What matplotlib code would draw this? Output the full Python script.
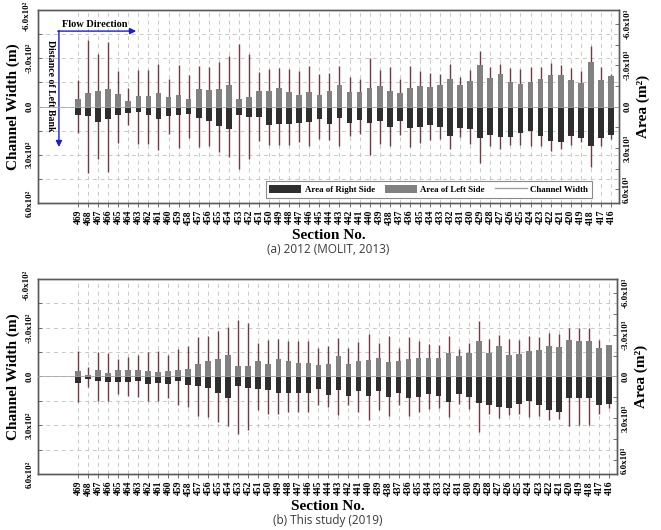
import numpy as np
import matplotlib
matplotlib.use("Agg")
import matplotlib.pyplot as plt
from matplotlib.patches import Patch
from matplotlib.lines import Line2D

sections = [str(s) for s in range(469, 415, -1)]

width_left_2012 = [165, 411, 325, 401, 222, 115, 228, 226, 267, 171,
                   259, 197, 251, 247, 279, 312, 386, 329, 212, 236,
                   242, 234, 218, 251, 205, 210, 249, 181, 173, 300,
                   226, 247, 173, 249, 222, 210, 201, 263, 185, 226,
                   345, 247, 267, 242, 234, 247, 247, 269, 259, 238,
                   222, 374, 247, 201]
width_right_2012 = [164, 415, 329, 405, 226, 117, 230, 230, 271, 173,
                    261, 197, 251, 247, 282, 316, 390, 329, 214, 238,
                    242, 238, 220, 247, 201, 210, 247, 185, 173, 302,
                    230, 247, 175, 251, 226, 210, 201, 263, 189, 230,
                    353, 247, 267, 242, 238, 247, 247, 275, 263, 242,
                    222, 374, 247, 205]
area_left_2012 = [530, 1010, 1130, 1270, 940, 380, 770, 740, 960, 670,
                  820, 580, 1250, 1220, 1300, 1580, 530, 720, 1130, 1150,
                  1370, 1060, 860, 1060, 840, 1150, 1580, 1030, 1060, 1340,
                  1490, 1130, 1010, 1340, 1510, 1440, 1580, 1990, 1580, 1820,
                  3000, 2090, 2350, 1800, 1660, 1780, 2020, 2280, 2260, 1940,
                  1730, 3240, 1920, 2230]
area_right_2012 = [580, 700, 1100, 890, 580, 460, 410, 620, 890, 670,
                   580, 550, 820, 1080, 1440, 1610, 650, 790, 790, 1320,
                   1250, 1250, 1200, 1100, 910, 1300, 860, 1180, 980, 1200,
                   1080, 1490, 1080, 1560, 1460, 1370, 1460, 2140, 1540, 1660,
                   2260, 2090, 2230, 2210, 1900, 1800, 2110, 2500, 2590, 2140,
                   2280, 2860, 2280, 2060]

width_left_2019 = [156, 60, 152, 146, 109, 121, 129, 150, 154, 132,
                   171, 185, 242, 249, 277, 306, 347, 327, 205, 226,
                   228, 216, 216, 216, 173, 189, 238, 173, 212, 263,
                   208, 247, 177, 242, 218, 201, 191, 247, 171, 203,
                   339, 228, 255, 232, 224, 249, 242, 267, 259, 300,
                   296, 296, 224, 195]
width_right_2019 = [158, 64, 154, 152, 109, 121, 127, 152, 154, 134,
                    173, 187, 245, 251, 282, 306, 351, 327, 208, 228,
                    232, 220, 216, 216, 175, 189, 240, 173, 216, 265,
                    208, 245, 175, 245, 220, 203, 191, 249, 171, 203,
                    339, 232, 257, 236, 228, 249, 245, 269, 261, 302,
                    298, 298, 228, 195]
area_left_2019 = [380, 140, 430, 260, 460, 460, 460, 360, 340, 360,
                  460, 550, 910, 1130, 1250, 1510, 770, 740, 1080, 910,
                  1220, 1100, 960, 960, 840, 910, 1460, 860, 1080, 1150,
                  1340, 1060, 1080, 1220, 1340, 1300, 1340, 1660, 1440, 1700,
                  2540, 1660, 2160, 1540, 1610, 1800, 1920, 2210, 2090, 2590,
                  2570, 2570, 2040, 2280]
area_right_2019 = [460, 170, 310, 430, 430, 430, 360, 530, 480, 550,
                   310, 600, 700, 840, 1180, 1540, 650, 840, 910, 980,
                   1220, 1200, 1220, 1220, 910, 1300, 980, 1370, 1030, 1370,
                   1030, 1460, 1220, 1580, 1440, 1270, 1370, 1820, 1250, 1490,
                   1940, 2040, 2160, 2260, 1970, 1750, 2020, 2420, 2520, 1560,
                   1580, 1580, 2040, 1990]

width_ticks = [-600, -300, 0, 300, 600]
width_tick_labels = ["-6.0x10²", "-3.0x10²", "0.0", "3.0x10²", "6.0x10²"]
area_ticks = [-6000, -3000, 0, 3000, 6000]
area_tick_labels = ["-6.0x10³", "-3.0x10³", "0.0", "3.0x10³", "6.0x10³"]

SERIF = "Liberation Serif"
GRAY = "#818181"
DARK = "#2e2e2e"
LINEC = "#743a42"
SPINE = "#5a5a5a"
BLUE = "#1c1cd8"

fig = plt.figure(figsize=(6.61, 5.30), dpi=100)


def panel(rect, wl, wr, al, ar, caption, legend=False, arrows=False):
    ax = fig.add_axes(rect)
    x = np.arange(len(sections))
    ax.vlines(x, -np.array(wl), np.array(wr), color=LINEC, lw=1.0, zorder=2)
    ax.set_xlim(-3.98, len(sections) - 1 + 0.8)
    ax.set_ylim(600, -600)
    ax.set_xticks(x)
    ax.set_xticklabels(sections, rotation=90, fontfamily=SERIF,
                       fontweight="bold", fontsize=7)
    ax.set_yticks(width_ticks)
    ax.set_yticks([-450, -150, 150, 450], minor=True)
    # the topmost label would run off the axes top, so it is placed by hand below
    ax.set_yticklabels([""] + width_tick_labels[1:], rotation=90, va="center",
                       fontfamily=SERIF, fontweight="bold", fontsize=6.5)
    ax.annotate(width_tick_labels[0], xy=(0, 1), xycoords="axes fraction",
                xytext=(-5.2, 6.5), textcoords="offset points",
                ha="right", va="top", rotation=90, fontfamily=SERIF,
                fontweight="bold", fontsize=6.5)
    ax.grid(True, which="both", axis="y", ls=(0, (4, 4)), color="#c8c8c8", lw=0.7)
    ax.grid(True, which="major", axis="x", ls=(0, (4, 4)), color="#c8c8c8", lw=0.7)
    ax.tick_params(axis="x", direction="out", length=3, width=0.6, color=SPINE, pad=2)
    ax.tick_params(axis="y", which="both", direction="in", length=3, width=0.6,
                   color=SPINE, pad=3)
    ax.set_axisbelow(True)
    for s in ax.spines.values():
        s.set_color(SPINE)
        s.set_linewidth(1.0)
    ax.set_ylabel("Channel Width (m)", fontfamily=SERIF, fontweight="bold",
                  fontsize=11, labelpad=4)
    ax.set_xlabel("Section No.", fontfamily=SERIF, fontweight="bold",
                  fontsize=11, labelpad=3)

    ax2 = ax.twinx()
    ax2.bar(x, -np.array(al), width=0.56, color=GRAY, zorder=3)
    ax2.bar(x, np.array(ar), width=0.56, color=DARK, zorder=3)
    ax2.axhline(0, color="#a8a8a8", lw=0.6, zorder=4)
    ax2.set_ylim(7000, -7000)
    ax2.set_yticks(area_ticks)
    ax2.set_yticks([-4500, -1500, 1500, 4500], minor=True)
    ax2.set_yticklabels(area_tick_labels, rotation=90, va="center",
                        fontfamily=SERIF, fontweight="bold", fontsize=6.5)
    ax2.tick_params(axis="y", which="both", direction="in", length=3, width=0.6,
                    color=SPINE, pad=3)
    for s in ax2.spines.values():
        s.set_color(SPINE)
        s.set_linewidth(1.0)
    ax2.set_ylabel("Area (m²)", fontfamily=SERIF, fontweight="bold",
                   fontsize=11, labelpad=4)

    if legend:
        handles = [Patch(facecolor=DARK, edgecolor="none"),
                   Patch(facecolor=GRAY, edgecolor="none"),
                   Line2D([], [], color="#a0a0a0", lw=1.0)]
        labels = ["Area of Right Side", "Area of Left Side", "Channel Width"]
        leg = ax2.legend(handles, labels, ncol=3, loc="lower right",
                         bbox_to_anchor=(0.953, 0.028), frameon=True,
                         fancybox=False, edgecolor="#8a8a8a", framealpha=1,
                         handlelength=3.6, handleheight=1.15, columnspacing=1.1,
                         handletextpad=0.4, borderpad=0.4, borderaxespad=0.0,
                         prop={"family": SERIF, "weight": "bold", "size": 6.4})
        leg.get_frame().set_linewidth(0.8)

    if arrows:
        ax2.annotate("", xy=(0.169, 0.891), xytext=(0.034, 0.891),
                     xycoords="axes fraction", textcoords="axes fraction",
                     arrowprops=dict(arrowstyle="-|>", color=BLUE, lw=1.0,
                                     mutation_scale=9, shrinkA=0, shrinkB=0))
        ax2.annotate("", xy=(0.036, 0.29), xytext=(0.036, 0.894),
                     xycoords="axes fraction", textcoords="axes fraction",
                     arrowprops=dict(arrowstyle="-|>", color=BLUE, lw=1.0,
                                     mutation_scale=9, shrinkA=0, shrinkB=0))
        ax2.text(0.098, 0.925, "Flow Direction", transform=ax2.transAxes,
                 ha="center", va="center", fontfamily=SERIF,
                 fontweight="bold", fontsize=7.5)
        ax2.text(0.022, 0.61, "Distance of Left Bank", transform=ax2.transAxes,
                 ha="center", va="center", rotation=270, fontfamily=SERIF,
                 fontweight="bold", fontsize=7)

    fig.text(rect[0] + rect[2] / 2, rect[1] - 0.088, caption, ha="center",
             va="center", fontfamily="Open Sans", fontsize=8.5, color="#3a3a3a")
    return ax, ax2


panel([0.0575, 0.617, 0.879, 0.364], width_left_2012, width_right_2012,
      area_left_2012, area_right_2012, "(a) 2012 (MOLIT, 2013)",
      legend=True, arrows=True)
panel([0.0575, 0.1057, 0.876, 0.368], width_left_2019, width_right_2019,
      area_left_2019, area_right_2019, "(b) This study (2019)")

fig.savefig("out.png", dpi=100)
